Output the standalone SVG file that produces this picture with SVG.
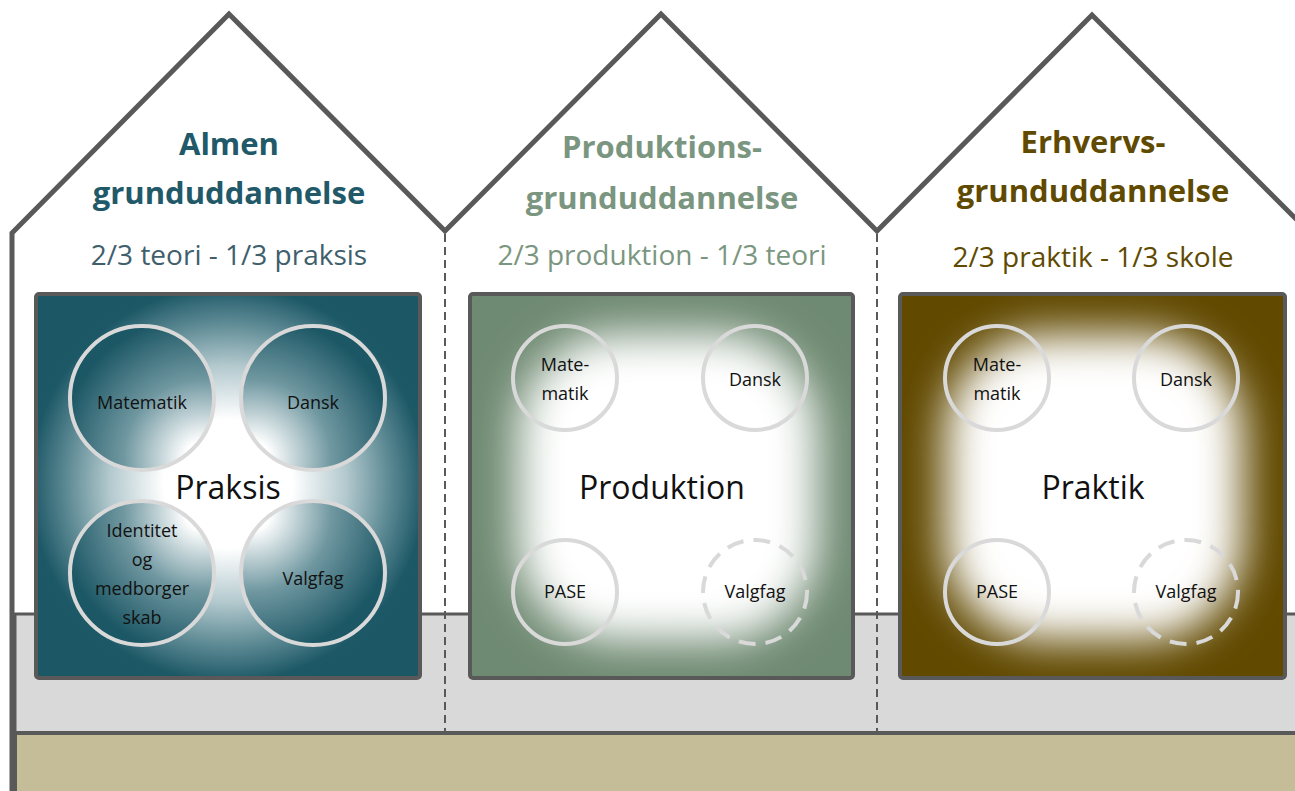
<svg xmlns="http://www.w3.org/2000/svg" width="1295" height="791" viewBox="0 0 1295 791">
<defs>
<style>
.wall{fill:none;stroke:#595959;stroke-width:5;stroke-linejoin:miter}
.dash{fill:none;stroke:#595959;stroke-width:2;stroke-dasharray:8 5}
.box{stroke:#595959;stroke-width:4}
.c{stroke:#d9d9d9;stroke-width:4}
.cd{fill:none;stroke:#d9d9d9;stroke-width:4;stroke-dasharray:17 10}
.t{font-family:"Open Sans","DejaVu Sans",sans-serif;text-anchor:middle}
.title{font-weight:bold;font-size:31px}
.sub{font-size:28px}
.lab{font-size:18px;fill:#111}
.big{font-size:32px;fill:#111}
</style>
<radialGradient id="g1" gradientUnits="userSpaceOnUse" cx="228" cy="484" r="215">
<stop offset="0" stop-color="#ffffff"/>
<stop offset="0.3" stop-color="#ffffff"/>
<stop offset="0.55" stop-color="#b3c9ce"/>
<stop offset="0.75" stop-color="#5d8a94"/>
<stop offset="0.92" stop-color="#1d5866"/>
<stop offset="1" stop-color="#1c5765"/>
</radialGradient>
<radialGradient id="cTL" cx="0.92" cy="0.92" fx="0.92" fy="0.92" r="1">
<stop offset="0" stop-color="#ffffff"/><stop offset="0.12" stop-color="#ffffff"/><stop offset="0.55" stop-color="#6f97a0"/><stop offset="1" stop-color="#1c5765"/>
</radialGradient>
<radialGradient id="cTR" cx="0.08" cy="0.92" fx="0.08" fy="0.92" r="1">
<stop offset="0" stop-color="#ffffff"/><stop offset="0.12" stop-color="#ffffff"/><stop offset="0.55" stop-color="#6f97a0"/><stop offset="1" stop-color="#1c5765"/>
</radialGradient>
<radialGradient id="cBL" cx="0.92" cy="0.08" fx="0.92" fy="0.08" r="1">
<stop offset="0" stop-color="#ffffff"/><stop offset="0.12" stop-color="#ffffff"/><stop offset="0.55" stop-color="#6f97a0"/><stop offset="1" stop-color="#1c5765"/>
</radialGradient>
<radialGradient id="cBR" cx="0.08" cy="0.08" fx="0.08" fy="0.08" r="1">
<stop offset="0" stop-color="#ffffff"/><stop offset="0.12" stop-color="#ffffff"/><stop offset="0.55" stop-color="#6f97a0"/><stop offset="1" stop-color="#1c5765"/>
</radialGradient>
<filter id="blur" x="-30%" y="-30%" width="160%" height="160%">
<feGaussianBlur stdDeviation="22"/>
</filter>
<clipPath id="clip2"><rect x="470" y="294" width="383" height="384"/></clipPath>
<clipPath id="clip3"><rect x="900" y="294" width="385" height="384"/></clipPath>
</defs>

<rect width="1295" height="791" fill="#ffffff"/>

<g id="ground">
<rect x="15" y="614" width="1285" height="119" fill="#d9d9d9" stroke="#595959" stroke-width="3"/>
<rect x="15" y="733" width="1285" height="62" fill="#c4bd97" stroke="#595959" stroke-width="4"/>
</g>

<g id="house">
<path class="wall" d="M12,795 L12,233 L229,14 L445,231 L661,14 L877,231 L1092,15 L1300,223"/>
</g>

<g id="connectors">
<line class="dash" x1="445" y1="234" x2="445" y2="733"/>
<line class="dash" x1="877" y1="234" x2="877" y2="733"/>
</g>

<g id="almen">
<text class="t title" x="229" y="155" fill="#215968">Almen</text>
<text class="t title" x="229" y="204" fill="#215968">grunduddannelse</text>
<text class="t sub" x="229" y="265" fill="#3f5f6d">2/3 teori - 1/3 praksis</text>
<rect class="box" x="36" y="294" width="384" height="384" rx="3" fill="url(#g1)"/>
<circle class="c" cx="142" cy="398" r="72" fill="url(#cTL)"/>
<circle class="c" cx="313" cy="398" r="72" fill="url(#cTR)"/>
<circle class="c" cx="142" cy="573" r="72" fill="url(#cBL)"/>
<circle class="c" cx="313" cy="573" r="72" fill="url(#cBR)"/>
<text class="t lab" x="142" y="409">Matematik</text>
<text class="t lab" x="313" y="409">Dansk</text>
<text class="t lab" x="142" y="537">Identitet</text>
<text class="t lab" x="142" y="566">og</text>
<text class="t lab" x="142" y="595">medborger</text>
<text class="t lab" x="142" y="624">skab</text>
<text class="t lab" x="313" y="585">Valgfag</text>
<text class="t big" x="228" y="499">Praksis</text>
</g>

<g id="produktion">
<text class="t title" x="662" y="158" fill="#7b9680">Produktions-</text>
<text class="t title" x="662" y="209" fill="#7b9680">grunduddannelse</text>
<text class="t sub" x="662" y="265" fill="#7b9680">2/3 produktion - 1/3 teori</text>
<rect x="470" y="294" width="383" height="384" fill="#6f8a72"/>
<g clip-path="url(#clip2)"><rect x="518" y="334" width="299" height="306" rx="100" fill="#ffffff" filter="url(#blur)"/></g>
<rect class="box" x="470" y="294" width="383" height="384" rx="3" fill="none"/>
<circle class="c" cx="565" cy="378" r="52" fill="none"/>
<circle class="c" cx="755" cy="378" r="52" fill="none"/>
<circle class="c" cx="565" cy="592" r="52" fill="none"/>
<circle class="cd" cx="755" cy="592" r="52"/>
<text class="t lab" x="565" y="371">Mate-</text>
<text class="t lab" x="565" y="400">matik</text>
<text class="t lab" x="755" y="386">Dansk</text>
<text class="t lab" x="565" y="598">PASE</text>
<text class="t lab" x="755" y="598">Valgfag</text>
<text class="t big" x="662" y="499">Produktion</text>
</g>

<g id="erhverv">
<text class="t title" x="1093" y="153" fill="#604a00">Erhvervs-</text>
<text class="t title" x="1093" y="202" fill="#604a00">grunduddannelse</text>
<text class="t sub" x="1093" y="267" fill="#604a00">2/3 praktik - 1/3 skole</text>
<rect x="900" y="294" width="385" height="384" fill="#614900"/>
<g clip-path="url(#clip3)"><rect x="945" y="334" width="298" height="306" rx="100" fill="#ffffff" filter="url(#blur)"/></g>
<rect class="box" x="900" y="294" width="385" height="384" rx="3" fill="none"/>
<circle class="c" cx="997" cy="378" r="52" fill="none"/>
<circle class="c" cx="1186" cy="378" r="52" fill="none"/>
<circle class="c" cx="997" cy="592" r="52" fill="none"/>
<circle class="cd" cx="1186" cy="592" r="52"/>
<text class="t lab" x="997" y="371">Mate-</text>
<text class="t lab" x="997" y="400">matik</text>
<text class="t lab" x="1186" y="386">Dansk</text>
<text class="t lab" x="997" y="598">PASE</text>
<text class="t lab" x="1186" y="598">Valgfag</text>
<text class="t big" x="1093" y="499">Praktik</text>
</g>
</svg>
